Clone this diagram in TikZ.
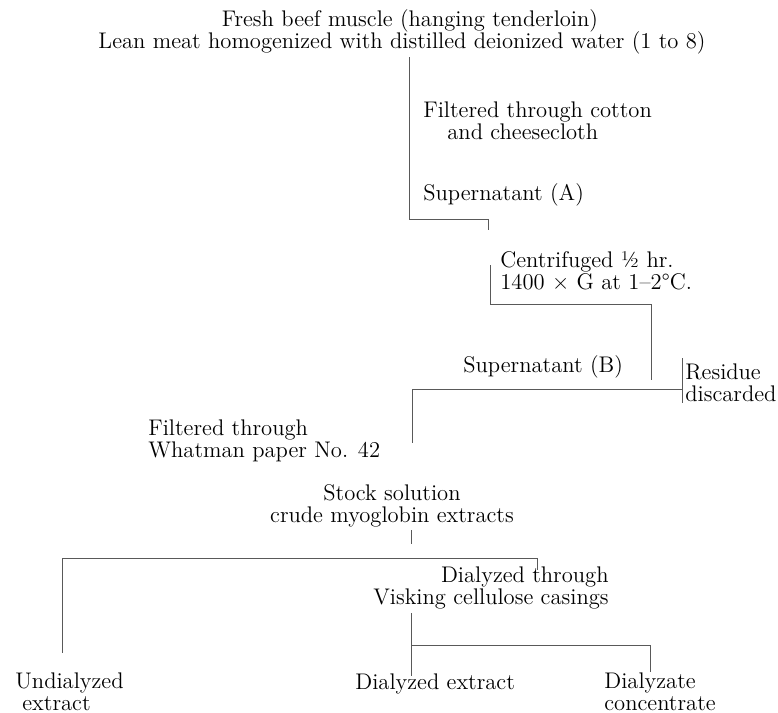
\documentclass[tikz,border=0pt]{standalone}
\usepackage{tikz}
\usetikzlibrary{positioning}

\begin{document}
\begin{tikzpicture}[
    x=0.5pt, y=-0.5pt,
    lbl/.style={
        inner sep=0pt,
        align=left,
        font=\fontsize{11.3}{10.8}\selectfont
    },
    link/.style={
        line width=0.5pt,
        draw=black!65
    }
]
\useasboundingbox (0,0) rectangle (778,713);

% Labels (base = last line)

\node[lbl, anchor=base] (fresh) at (410,26) {Fresh beef muscle (hanging tenderloin)};
\node[lbl, anchor=base] (lean) at (402,48) {Lean meat homogenized with distilled deionized water (1 to 8)};

\node[lbl, anchor=base west] (cotton) at (423,139) {
Filtered through cotton\\
\hspace{12pt}and cheesecloth
};

\node[lbl, anchor=base west] (supA) at (423,200) {Supernatant (A)};

\node[lbl, anchor=base west] (centri) at (500,289) {
Centrifuged \textonehalf{} hr.\\
1400 × G at 1–2°C.
};

\node[lbl, anchor=base west] (supB) at (463,372) {Supernatant (B)};

\node[lbl, anchor=base west] (residue) at (685,401) {
Residue\\
discarded
};

\node[lbl, anchor=base west] (whatman) at (148,457) {
Filtered through\\
Whatman paper No. 42
};

\node[lbl, align=center, anchor=base] (stock) at (392,522) {
Stock solution\\
crude myoglobin extracts
};

\node[lbl, align=right, anchor=base east] (visking) at (609,604) {
Dialyzed through\\
Visking cellulose casings
};

\node[lbl, anchor=base west] (undial) at (15,710) {
Undialyzed\\
\hspace{3.5pt}extract
};

\node[lbl, anchor=base west] (dialext) at (355,689) {Dialyzed extract};

\node[lbl, anchor=base west] (dialyzate) at (604,710) {
Dialyzate\\
concentrate
};

% Line ends

\coordinate (a0) at (409,57);
\coordinate (a1) at (409,219);
\coordinate (a2) at (488,219);
\coordinate (a3) at (488,230);

\coordinate (c0) at (490,265);
\coordinate (c1) at (490,304);
\coordinate (c2) at (651,304);
\coordinate (c3) at (651,380);

\coordinate (r0) at (682,358);
\coordinate (r1) at (682,403);
\coordinate (b0) at (682,389);
\coordinate (b1) at (412,389);
\coordinate (b2) at (412,443);

\coordinate (s0) at (411,530);
\coordinate (s1) at (411,544);

\coordinate (u0) at (537,570);
\coordinate (u1) at (537,558);
\coordinate (u2) at (62,558);
\coordinate (u3) at (62,653);

\coordinate (d0) at (411,613);
\coordinate (d1) at (411,676);
\coordinate (d2) at (411,645);
\coordinate (d3) at (650,645);
\coordinate (d4) at (650,672);

% Connectors

\draw[link] (a0)--(a1)--(a2)--(a3);
\draw[link] (c0)--(c1)--(c2)--(c3);
\draw[link] (r0)--(r1);
\draw[link] (b0)--(b1)--(b2);
\draw[link] (s0)--(s1);
\draw[link] (u0)--(u1)--(u2)--(u3);
\draw[link] (d0)--(d1);
\draw[link] (d2)--(d3)--(d4);

\end{tikzpicture}
\end{document}
